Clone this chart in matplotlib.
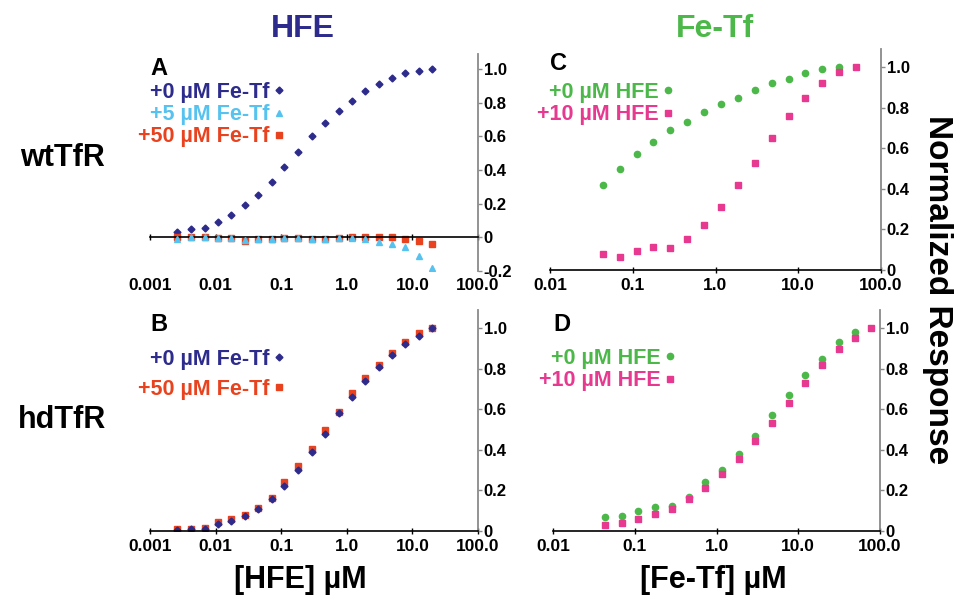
import numpy as np
import matplotlib.pyplot as plt

plt.rcParams['font.family'] = ['Liberation Sans', 'DejaVu Sans']
plt.rcParams['font.weight'] = 'bold'

# HFE titration (panels A, B), uM
hfe_conc = [0.0026, 0.0042, 0.0068, 0.011, 0.017, 0.028, 0.045, 0.072, 0.11, 0.18,
            0.29, 0.47, 0.75, 1.2, 1.9, 3.1, 4.9, 7.8, 12.5, 20.0]
a_fetf0 = [0.03, 0.05, 0.055, 0.09, 0.13, 0.19, 0.25, 0.33, 0.42, 0.51,
           0.60, 0.68, 0.75, 0.81, 0.87, 0.91, 0.945, 0.98, 0.99, 1.0]
a_fetf5 = [-0.01, 0.0, 0.0, -0.002, -0.002, -0.015, -0.01, -0.01, -0.004, -0.004,
           -0.01, -0.01, -0.004, -0.002, -0.012, -0.03, -0.04, -0.06, -0.11, -0.18]
a_fetf50 = [0.0, 0.0, 0.0, -0.002, -0.002, -0.02, -0.01, -0.01, -0.004, -0.004,
            -0.009, -0.009, -0.004, 0.005, 0.005, 0.0, 0.0, -0.008, -0.02, -0.04]
b_fetf0 = [0.007, 0.008, 0.01, 0.035, 0.05, 0.075, 0.11, 0.16, 0.22, 0.30,
           0.39, 0.48, 0.58, 0.66, 0.74, 0.81, 0.87, 0.92, 0.96, 1.0]
b_fetf50 = [0.01, 0.011, 0.015, 0.045, 0.06, 0.08, 0.115, 0.165, 0.24, 0.32,
            0.405, 0.50, 0.585, 0.68, 0.755, 0.82, 0.88, 0.93, 0.975, 1.0]

# Fe-Tf titration (panels C, D), uM
fetf_conc = [0.0434, 0.0694, 0.111, 0.178, 0.284, 0.455, 0.728, 1.16, 1.86, 2.98,
             4.77, 7.63, 12.2, 19.5, 31.2, 50.0, 78.0]
c_hfe0 = [0.42, 0.50, 0.57, 0.63, 0.69, 0.73, 0.78, 0.82, 0.85, 0.89,
          0.92, 0.94, 0.97, 0.99, 1.0]
c_hfe10 = [0.08, 0.066, 0.095, 0.115, 0.11, 0.155, 0.22, 0.31, 0.42, 0.53,
           0.65, 0.76, 0.85, 0.92, 0.975, 1.0]
d_hfe0 = [0.07, 0.075, 0.10, 0.12, 0.125, 0.17, 0.24, 0.30, 0.38, 0.47,
          0.57, 0.67, 0.77, 0.85, 0.93, 0.98]
d_hfe10 = [0.03, 0.04, 0.058, 0.082, 0.11, 0.158, 0.214, 0.28, 0.356, 0.445,
           0.534, 0.63, 0.73, 0.82, 0.90, 0.95, 1.0]

hfe_ticks = [0.001, 0.01, 0.1, 1, 10, 100]
hfe_ticklabels = ['0.001', '0.01', '0.1', '1.0', '10.0', '100.0']
fetf_ticks = [0.01, 0.1, 1, 10, 100]
fetf_ticklabels = ['0.01', '0.1', '1.0', '10.0', '100.0']

navy = '#2d2b8c'
sky = '#56c2ef'
red = '#e8431e'
green = '#4cb84a'
pink = '#e6398f'

W, H = 959, 602
fig = plt.figure(figsize=(W / 100, H / 100), dpi=100)


def px_axes(x0, x1, y0, y1):
    return fig.add_axes([x0 / W, 1 - y1 / H, (x1 - x0) / W, (y1 - y0) / H])


def style(ax, ylo, xt, xtl, ylab_neg=False):
    ax.set_xscale('log')
    ax.set_xlim(xt[0], xt[-1])
    ax.set_ylim(ylo, 1.09)
    ax.spines['top'].set_visible(False)
    ax.spines['left'].set_visible(False)
    ax.spines['right'].set_color('#8a8a8a')
    ax.spines['right'].set_linewidth(1.3)
    ax.spines['bottom'].set_linewidth(1.2)
    ax.yaxis.tick_right()
    yt = [0, 0.2, 0.4, 0.6, 0.8, 1.0]
    ytl = ['0', '0.2', '0.4', '0.6', '0.8', '1.0']
    if ylab_neg:
        yt = [-0.2] + yt
        ytl = ['-0.2'] + ytl
    ax.set_yticks(yt)
    ax.set_yticklabels(ytl, fontsize=12, fontweight='bold')
    ax.tick_params(axis='y', length=3, width=1, color='#8a8a8a', pad=1)
    ax.set_xticks(xt)
    ax.minorticks_off()
    ax.tick_params(axis='x', direction='inout', length=5, width=1)
    ax.set_xticklabels(xtl, fontsize=12.5, fontweight='bold')


def legend(ax, x, y, spacing=0.05):
    ax.legend(loc='upper left', bbox_to_anchor=(x / W, 1 - y / H),
              bbox_transform=fig.transFigure, frameon=False, markerfirst=False,
              handlelength=0.6, handletextpad=0.15, labelspacing=spacing,
              borderpad=0, borderaxespad=0, numpoints=1,
              labelcolor='markerfacecolor',
              prop={'size': 15.5, 'weight': 'bold'})


# Panel A: wtTfR, HFE titration
axA = px_axes(150, 478, 54, 271)
style(axA, -0.2, hfe_ticks, hfe_ticklabels, ylab_neg=True)
axA.spines['bottom'].set_position(('data', 0))
axA.spines['bottom'].set_color('black')
axA.set_xticklabels([])
for t, lab in zip(hfe_ticks, hfe_ticklabels):
    axA.text(t, -0.03, lab, transform=axA.get_xaxis_transform(),
             ha='center', va='top', fontsize=12.5, fontweight='bold')
axA.plot(hfe_conc, a_fetf0, 'D', color=navy, ms=3.5, ls='none', label='+0 \u00b5M Fe-Tf')
axA.plot(hfe_conc, a_fetf50, 's', color=red, ms=4, ls='none', zorder=2)
axA.plot(hfe_conc, a_fetf5, '^', color=sky, ms=4.5, ls='none', label='+5 \u00b5M Fe-Tf', zorder=3)
axA.plot([], [], 's', color=red, ms=4, ls='none', label='+50 \u00b5M Fe-Tf')
legend(axA, 138, 82)

# Panel B: hdTfR, HFE titration
axB = px_axes(150, 478, 310, 531)
style(axB, 0, hfe_ticks, hfe_ticklabels)
axB.plot(hfe_conc, b_fetf50, 's', color=red, ms=4, ls='none')
axB.plot(hfe_conc, b_fetf0, 'D', color=navy, ms=3.5, ls='none', label='+0 \u00b5M Fe-Tf')
axB.plot([], [], 's', color=red, ms=4, ls='none', label='+50 \u00b5M Fe-Tf')
legend(axB, 138, 349, spacing=0.4)

# Panel C: wtTfR, Fe-Tf titration
axC = px_axes(550, 881, 49, 270)
style(axC, 0, fetf_ticks, fetf_ticklabels)
axC.plot(fetf_conc[:15], c_hfe0, 'o', color=green, ms=4.5, ls='none', label='+0 \u00b5M HFE')
axC.plot(fetf_conc[:16], c_hfe10, 's', color=pink, ms=4.3, ls='none', label='+10 \u00b5M HFE')
legend(axC, 537, 82)

# Panel D: hdTfR, Fe-Tf titration
axD = px_axes(553, 880, 310, 531)
style(axD, 0, fetf_ticks, fetf_ticklabels)
axD.plot(fetf_conc[:16], d_hfe0, 'o', color=green, ms=4.5, ls='none', label='+0 \u00b5M HFE')
axD.plot(fetf_conc, d_hfe10, 's', color=pink, ms=4.3, ls='none', label='+10 \u00b5M HFE')
legend(axD, 539, 348)

# panel letters
for ax, letter in [(axA, 'A'), (axB, 'B'), (axC, 'C'), (axD, 'D')]:
    ax.text(0.0, 0.985, letter, transform=ax.transAxes, ha='left', va='top',
            fontsize=17, fontweight='bold')

# column and row headers
fig.text(303 / W, 1 - 29 / H, 'HFE', color=navy, fontsize=23, fontweight='bold',
         ha='center', va='center')
fig.text(715 / W, 1 - 29 / H, 'Fe-Tf', color=green, fontsize=23, fontweight='bold',
         ha='center', va='center')
fig.text(62 / W, 1 - 158 / H, 'wtTfR', fontsize=22, fontweight='bold',
         ha='center', va='center')
fig.text(62 / W, 1 - 420 / H, 'hdTfR', fontsize=22, fontweight='bold',
         ha='center', va='center')
fig.text(937 / W, 1 - 290 / H, 'Normalized Response', fontsize=24, fontweight='bold',
         rotation=-90, ha='center', va='center')
fig.text(300 / W, 1 - 580 / H, '[HFE] \u00b5M', fontsize=22, fontweight='bold',
         ha='center', va='center')
fig.text(713 / W, 1 - 580 / H, '[Fe-Tf] \u00b5M', fontsize=22, fontweight='bold',
         ha='center', va='center')

fig.savefig('out.png', dpi=100, facecolor='white')
